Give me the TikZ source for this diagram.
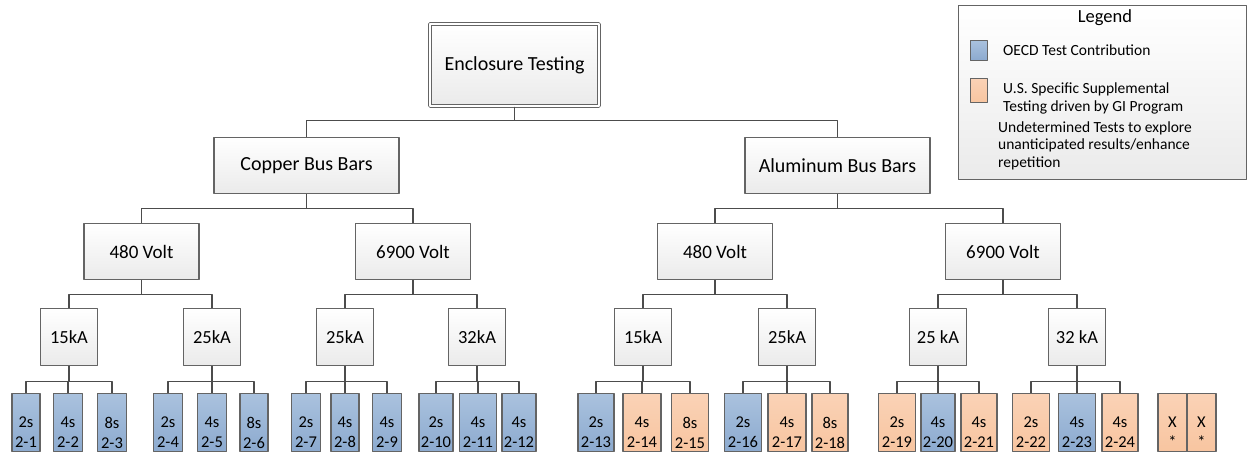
\documentclass[tikz,border=0pt]{standalone}
\usepackage{fontspec}
\setmainfont{Carlito}
\definecolor{oecd}{RGB}{140,170,207}
\definecolor{oecdL}{RGB}{170,194,222}
\definecolor{usa}{RGB}{248,197,160}
\definecolor{usaL}{RGB}{250,210,182}
\definecolor{edge}{RGB}{100,100,100}
\begin{document}
\begin{tikzpicture}[x=1pt, y=-1pt, line join=round,
	box/.style={draw=edge, line width=1.4pt, top color=white, bottom color=black!8, inner sep=0pt, align=center},
	hbox/.style={box, minimum width=185pt, minimum height=56pt, font=\fontsize{20}{24}\selectfont},
	vbox/.style={box, minimum width=115pt, minimum height=56pt, font=\fontsize{19}{23}\selectfont},
	kbox/.style={box, minimum width=57pt, minimum height=57pt, font=\fontsize{18.5}{22}\selectfont},
	tbox/.style={box, minimum height=58pt},
	oe/.style={top color=oecdL, bottom color=oecd},
	us/.style={top color=usaL, bottom color=usa},
	lab/.style={align=center, inner sep=0pt, yshift=-10pt, font=\fontsize{16.5}{20}\selectfont},
	link/.style={draw=black!70, line width=1.4pt},
	legtext/.style={anchor=west, align=left, inner sep=0pt, font=\fontsize{15.5}{17.5}\selectfont}]
	\useasboundingbox (0,0) rectangle (1249,453);
	\node[box, draw=edge, line width=1.1pt, double=white, double distance=1.6pt, minimum width=169pt, minimum height=82pt, font=\fontsize{20}{24}\selectfont] (enc) at (514.5,65) {Enclosure Testing};
	\node[hbox] (cu) at (306.5,165.5) {Copper Bus Bars};
	\node[hbox] (al) at (837.5,165.5) {Aluminum Bus Bars};
	\node[vbox] (v1) at (141.5,251.5) {480 Volt};
	\node[vbox] (v2) at (413,251.5) {6900 Volt};
	\node[vbox] (v3) at (715,251.5) {480 Volt};
	\node[vbox] (v4) at (1003,251.5) {6900 Volt};
	\foreach \x/\t [count=\i] in {69/15kA, 212/25kA, 345/25kA, 477/32kA, 643/15kA, 787/25kA, 938/25 kA, 1077/32 kA}
	\node[kbox] (k\i) at (\x,337) {\t};
	\foreach \x/\w/\s/\n/\c in {26/28/2s/1/oe, 68/29/4s/2/oe, 112/29/8s/3/oe,
		168/29/2s/4/oe, 212/29/4s/5/oe, 254/28/8s/6/oe,
		306/29/2s/7/oe, 345/28/4s/8/oe, 387/29/4s/9/oe,
		436/34/2s/10/oe, 478/37/4s/11/oe, 519/34/4s/12/oe,
		596/36/2s/13/oe, 642/38/4s/14/us, 690/37/8s/15/us,
		743/37/2s/16/oe, 787/38/4s/17/us, 830/36/8s/18/us,
		897/37/2s/19/us, 938/34/4s/20/oe, 979/36/4s/21/us,
		1031/37/2s/22/us, 1077/37/4s/23/oe, 1120/36/4s/24/us}
	\node[tbox, \c, minimum width=\w pt, label={[lab]center:{\s\\2-\n}}] (t\n) at (\x,422.5) {};
	\node[tbox, us, minimum width=29pt, label={[lab]center:{X\\*}}] (x1) at (1172.5,422.5) {};
	\node[tbox, us, minimum width=29pt, label={[lab]center:{X\\*}}] (x2) at (1201.5,422.5) {};
	\draw[link] (enc.south) -- ++(0,14) -| (cu.north);
	\draw[link] (enc.south) -- ++(0,14) -| (al.north);
	\foreach \p/\c in {cu/v1, cu/v2, al/v3, al/v4, v1/k1, v1/k2, v2/k3, v2/k4, v3/k5, v3/k6, v4/k7, v4/k8}
	\draw[link] (\p.south) -- ++(0,14) -| (\c.north);
	\foreach \i in {1,...,8}
	\foreach \j in {1,2,3}{
		\pgfmathtruncatemacro\n{3*(\i-1)+\j}
		\draw[link] (k\i.south) -- ++(0,15) -| (t\n.north);
	}
	\node[box, line width=1.2pt, minimum width=288pt, minimum height=174pt] (leg) at (1102.5,92.5) {};
	\node[inner sep=0pt, font=\fontsize{18.5}{22}\selectfont] (legt) at (1105,18) {Legend};
	\node[box, oe, line width=1pt, minimum width=17pt, minimum height=20pt] (lo) at (978.5,50) {};
	\node[box, us, line width=1pt, minimum width=17pt, minimum height=24pt] (lu) at (978.5,90) {};
	\node[legtext] (lot) at (1003,50) {OECD Test Contribution};
	\node[legtext] (lut) at (1003,98.5) {U.S. Specific Supplemental\\Testing driven by GI Program};
	\node[legtext] (lxt) at (998,145.5) {Undetermined Tests to explore\\unanticipated results/enhance\\repetition};
\end{tikzpicture}
\end{document}
